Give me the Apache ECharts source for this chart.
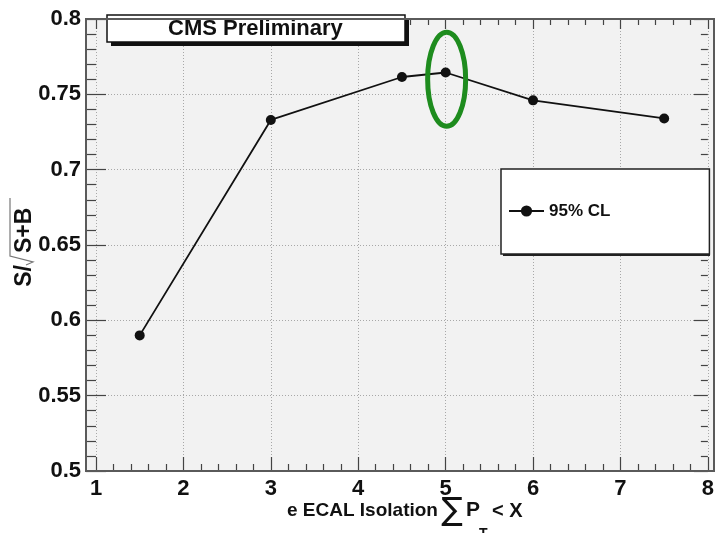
<!DOCTYPE html>
<html>
<head>
<meta charset="utf-8">
<script src="https://cdn.jsdelivr.net/npm/echarts@6/dist/echarts.min.js"></script>
<style>
  html, body { margin: 0; padding: 0; background: #ffffff; }
  #chart { width: 717px; height: 533px; }
</style>
</head>
<body>
<div id="chart"></div>
<script>
// Isolation cut (sum of pT in the ECAL cone) and resulting significance
const isolationCut = [1.5, 3, 4.5, 5, 6, 7.5];
const significance = [0.590, 0.733, 0.7615, 0.7645, 0.746, 0.734];
const seriesName = '95% CL';
const chosenCut = [5, 0.76];           // highlighted working point
const xTickRange = [1, 8, 1];          // min, max, step
const yTickRange = [0.5, 0.8, 0.05];   // min, max, step

const FONT = '"Liberation Sans", Arial, Helvetica, sans-serif';
const GRID = { left: 96, right: 3, top: 19, bottom: 62 };
const Y_OFFSET = 10;
const W = 717, H = 533;

// boxes for the label panel and the legend
const TITLE_BOX = { x: 107, y: 15, w: 298, h: 27 };
const LEGEND_BOX = { x: 501, y: 169, w: 207, h: 85 };

const chart = echarts.init(document.getElementById('chart'), null, { renderer: 'canvas' });

const frameLeft = GRID.left - Y_OFFSET;
const frameRight = W - GRID.right;
const frameTop = GRID.top;
const frameBottom = H - GRID.bottom;

const tickColor = '#444';
const gridLine = { show: true, lineStyle: { color: '#a8a8a8', type: [1, 2], width: 1 } };

chart.setOption({
  animation: false,
  backgroundColor: '#ffffff',
  title: {
    text: 'CMS Preliminary',
    left: TITLE_BOX.x, top: TITLE_BOX.y,
    padding: [2, 62, 2, 61],
    backgroundColor: '#ffffff',
    borderColor: '#111',
    borderWidth: 1.5,
    textStyle: { fontFamily: FONT, fontWeight: 'bold', fontSize: 22, lineHeight: 23, color: '#111' }
  },
  legend: {
    data: [seriesName],
    left: LEGEND_BOX.x, top: LEGEND_BOX.y,
    orient: 'vertical',
    padding: [33, 99, 34, 7],
    itemWidth: 35, itemHeight: 14,
    backgroundColor: '#ffffff',
    borderColor: '#222',
    borderWidth: 1.5,
    textStyle: { fontFamily: FONT, fontWeight: 'bold', fontSize: 17, lineHeight: 18, color: '#111' }
  },
  grid: { left: GRID.left, right: GRID.right, top: GRID.top, bottom: GRID.bottom },
  xAxis: [
    {
      type: 'value', min: xTickRange[0], max: xTickRange[1], interval: xTickRange[2],
      axisLine: { show: false },
      axisTick: { show: true, inside: true, length: 14, lineStyle: { color: tickColor, width: 1.2 } },
      minorTick: { show: true, splitNumber: 5, length: 7, lineStyle: { color: tickColor, width: 1.2 } },
      splitLine: gridLine,
      axisLabel: { fontFamily: FONT, fontWeight: 'bold', fontSize: 22, color: '#111', margin: 7 }
    },
    {
      type: 'value', position: 'top', min: xTickRange[0], max: xTickRange[1], interval: xTickRange[2],
      axisLine: { show: false },
      axisTick: { show: true, inside: true, length: 10, lineStyle: { color: tickColor, width: 1.2 } },
      minorTick: { show: true, splitNumber: 5, length: 6, lineStyle: { color: tickColor, width: 1.2 } },
      splitLine: { show: false },
      axisLabel: { show: false }
    }
  ],
  yAxis: [
    {
      type: 'value', min: yTickRange[0], max: yTickRange[1], interval: yTickRange[2],
      offset: Y_OFFSET,
      axisLine: { show: false },
      axisTick: { show: true, inside: true, length: 20, lineStyle: { color: tickColor, width: 1.2 } },
      minorTick: { show: true, splitNumber: 5, length: 10, lineStyle: { color: tickColor, width: 1.2 } },
      splitLine: gridLine,
      axisLabel: {
        fontFamily: FONT, fontWeight: 'bold', fontSize: 22, color: '#111', margin: 5,
        formatter: v => String(+v.toFixed(2))
      }
    },
    {
      type: 'value', position: 'right', min: yTickRange[0], max: yTickRange[1], interval: yTickRange[2],
      axisLine: { show: false },
      axisTick: { show: true, inside: true, length: 14, lineStyle: { color: tickColor, width: 1.2 } },
      minorTick: { show: true, splitNumber: 5, length: 7, lineStyle: { color: tickColor, width: 1.2 } },
      splitLine: { show: false },
      axisLabel: { show: false }
    }
  ],
  series: [{
    name: seriesName,
    type: 'line',
    data: isolationCut.map((x, i) => [x, significance[i]]),
    symbol: 'circle',
    symbolSize: 10,
    showAllSymbol: true,
    lineStyle: { color: '#111', width: 1.8 },
    itemStyle: { color: '#111' },
    z: 5
  }],
  graphic: [
    // plot background and frame
    {
      id: 'plotBg', type: 'rect', z: -10, silent: true,
      shape: { x: frameLeft, y: frameTop, width: frameRight - frameLeft, height: frameBottom - frameTop },
      style: { fill: '#f2f2f2' }
    },
    {
      id: 'plotFrame', type: 'rect', z: 20, silent: true,
      shape: { x: frameLeft, y: frameTop, width: frameRight - frameLeft, height: frameBottom - frameTop },
      style: { fill: null, stroke: '#5a5a5a', lineWidth: 2 }
    },
    // drop shadows behind the label panel and legend (drawn below both components)
    {
      id: 'titleShadow', type: 'rect', z: 1, silent: true,
      shape: { x: TITLE_BOX.x + 4, y: TITLE_BOX.y + 4, width: TITLE_BOX.w, height: TITLE_BOX.h },
      style: { fill: '#111' }
    },
    {
      id: 'legendShadow', type: 'rect', z: 1, silent: true,
      shape: { x: LEGEND_BOX.x + 2, y: LEGEND_BOX.y + 2, width: LEGEND_BOX.w, height: LEGEND_BOX.h },
      style: { fill: '#222' }
    },
    // y axis title: S / sqrt(S+B), reading bottom to top
    {
      id: 'yTitle', type: 'group', x: 25, y: 244, rotation: Math.PI / 2, silent: true,
      children: [
        { type: 'text', style: { text: 'S/', x: -21, y: 0, align: 'right', verticalAlign: 'middle',
            font: 'bold 23px ' + FONT, fill: '#111' } },
        { type: 'polyline', shape: { points: [[-21, 1], [-18, 8], [-12, -15], [46, -15]] },
          style: { fill: null, stroke: '#777', lineWidth: 1.2 } },
        { type: 'text', style: { text: 'S+B', x: -9, y: 0, align: 'left', verticalAlign: 'middle',
            font: 'bold 23px ' + FONT, fill: '#111' } }
      ]
    },
    // x axis title: e ECAL Isolation  Σ pT < X
    {
      id: 'xTitle', type: 'group', silent: true,
      children: [
        { type: 'text', style: { text: 'e ECAL Isolation', x: 287, y: 511, align: 'left', verticalAlign: 'middle',
            font: 'bold 19px ' + FONT, fill: '#111' } },
        { type: 'text', style: { text: '\u2211', x: 452, y: 512, align: 'center', verticalAlign: 'middle',
            font: '32px "DejaVu Sans", ' + FONT, fill: '#111' } },
        { type: 'text', style: { text: 'P', x: 466, y: 510, align: 'left', verticalAlign: 'middle',
            font: 'bold 21px ' + FONT, fill: '#111' } },
        { type: 'text', style: { text: 'T', x: 479, y: 527, align: 'left', verticalAlign: 'top',
            font: 'bold 14px ' + FONT, fill: '#111' } },
        { type: 'text', style: { text: '< X', x: 492, y: 511, align: 'left', verticalAlign: 'middle',
            font: 'bold 20px ' + FONT, fill: '#111' } }
      ]
    }
  ]
});

// ring around the selected working point
const c = chart.convertToPixel({ gridIndex: 0 }, chosenCut);
chart.setOption({
  graphic: [{
    id: 'chosenRing', type: 'ellipse', z: 15, silent: true,
    shape: { cx: c[0] + 1, cy: c[1], rx: 19, ry: 47 },
    style: { fill: null, stroke: '#1e8c1e', lineWidth: 5 }
  }]
});
</script>
</body>
</html>
